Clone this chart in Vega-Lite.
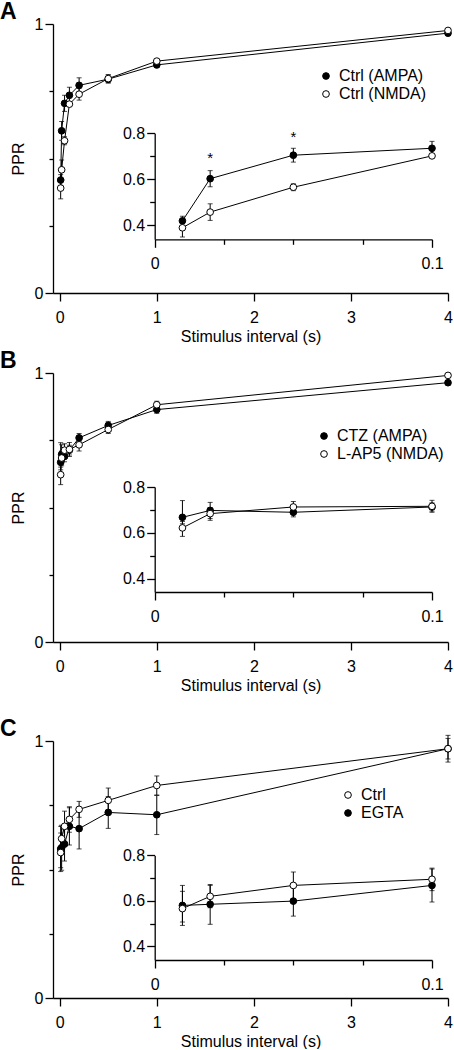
{
  "$schema": "https://vega.github.io/schema/vega-lite/v6.json",
  "padding": {"left": 0, "top": 1, "right": 4, "bottom": 0},
  "config": {
    "view": {"stroke": null},
    "font": "Liberation Sans",
    "axis": {"domainColor": "black", "domainWidth": 1.3, "tickColor": "black", "tickWidth": 1.3, "labelColor": "black", "labelFont": "Liberation Sans", "labelFontSize": 16, "titleFont": "Liberation Sans", "titleFontSize": 16, "titleFontWeight": "normal", "titleColor": "black", "grid": false, "labelFlush": false, "labelOverlap": false},
    "legend": {"labelFont": "Liberation Sans", "labelFontSize": 16, "labelColor": "black", "symbolStrokeColor": "black", "symbolStrokeWidth": 1, "symbolSize": 45, "symbolType": "circle", "rowPadding": 2, "labelOffset": 5, "padding": 0},
    "title": {"font": "Liberation Sans", "fontSize": 23, "fontWeight": "bold", "color": "black", "anchor": "start", "frame": "bounds"}
  },
  "datasets": {
    "pts": [
      {"panel": "A", "series": "Ctrl (AMPA)", "x": 0.01, "y": 0.42, "lo": 0.40, "hi": 0.44},
      {"panel": "A", "series": "Ctrl (AMPA)", "x": 0.02, "y": 0.603, "lo": 0.568, "hi": 0.638},
      {"panel": "A", "series": "Ctrl (AMPA)", "x": 0.05, "y": 0.705, "lo": 0.675, "hi": 0.735},
      {"panel": "A", "series": "Ctrl (AMPA)", "x": 0.1, "y": 0.735, "lo": 0.705, "hi": 0.765},
      {"panel": "A", "series": "Ctrl (AMPA)", "x": 0.2, "y": 0.772, "lo": 0.745, "hi": 0.8},
      {"panel": "A", "series": "Ctrl (AMPA)", "x": 0.5, "y": 0.795, "lo": 0.78, "hi": 0.81},
      {"panel": "A", "series": "Ctrl (AMPA)", "x": 1, "y": 0.848, "lo": 0.838, "hi": 0.858},
      {"panel": "A", "series": "Ctrl (AMPA)", "x": 4, "y": 0.966, "lo": 0.958, "hi": 0.974},
      {"panel": "A", "series": "Ctrl (NMDA)", "x": 0.01, "y": 0.39, "lo": 0.35, "hi": 0.42},
      {"panel": "A", "series": "Ctrl (NMDA)", "x": 0.02, "y": 0.458, "lo": 0.422, "hi": 0.494},
      {"panel": "A", "series": "Ctrl (NMDA)", "x": 0.05, "y": 0.566, "lo": 0.551, "hi": 0.581},
      {"panel": "A", "series": "Ctrl (NMDA)", "x": 0.1, "y": 0.702, "lo": 0.695, "hi": 0.709},
      {"panel": "A", "series": "Ctrl (NMDA)", "x": 0.2, "y": 0.739, "lo": 0.717, "hi": 0.761},
      {"panel": "A", "series": "Ctrl (NMDA)", "x": 0.5, "y": 0.797, "lo": 0.783, "hi": 0.812},
      {"panel": "A", "series": "Ctrl (NMDA)", "x": 1, "y": 0.862, "lo": 0.855, "hi": 0.869},
      {"panel": "A", "series": "Ctrl (NMDA)", "x": 4, "y": 0.976, "lo": 0.97, "hi": 0.982},
      {"panel": "B", "series": "CTZ (AMPA)", "x": 0.01, "y": 0.668, "lo": 0.64, "hi": 0.741},
      {"panel": "B", "series": "CTZ (AMPA)", "x": 0.02, "y": 0.698, "lo": 0.663, "hi": 0.733},
      {"panel": "B", "series": "CTZ (AMPA)", "x": 0.05, "y": 0.69, "lo": 0.67, "hi": 0.71},
      {"panel": "B", "series": "CTZ (AMPA)", "x": 0.1, "y": 0.713, "lo": 0.695, "hi": 0.731},
      {"panel": "B", "series": "CTZ (AMPA)", "x": 0.2, "y": 0.759, "lo": 0.745, "hi": 0.775},
      {"panel": "B", "series": "CTZ (AMPA)", "x": 0.5, "y": 0.805, "lo": 0.79, "hi": 0.82},
      {"panel": "B", "series": "CTZ (AMPA)", "x": 1, "y": 0.864, "lo": 0.85, "hi": 0.878},
      {"panel": "B", "series": "CTZ (AMPA)", "x": 4, "y": 0.964, "lo": 0.956, "hi": 0.972},
      {"panel": "B", "series": "L-AP5 (NMDA)", "x": 0.01, "y": 0.622, "lo": 0.585, "hi": 0.65},
      {"panel": "B", "series": "L-AP5 (NMDA)", "x": 0.02, "y": 0.684, "lo": 0.655, "hi": 0.71},
      {"panel": "B", "series": "L-AP5 (NMDA)", "x": 0.05, "y": 0.713, "lo": 0.69, "hi": 0.737},
      {"panel": "B", "series": "L-AP5 (NMDA)", "x": 0.1, "y": 0.716, "lo": 0.69, "hi": 0.742},
      {"panel": "B", "series": "L-AP5 (NMDA)", "x": 0.2, "y": 0.733, "lo": 0.71, "hi": 0.755},
      {"panel": "B", "series": "L-AP5 (NMDA)", "x": 0.5, "y": 0.79, "lo": 0.775, "hi": 0.805},
      {"panel": "B", "series": "L-AP5 (NMDA)", "x": 1, "y": 0.882, "lo": 0.868, "hi": 0.895},
      {"panel": "B", "series": "L-AP5 (NMDA)", "x": 4, "y": 0.991, "lo": 0.985, "hi": 0.997},
      {"panel": "C", "series": "EGTA", "x": 0.01, "y": 0.58, "lo": 0.507, "hi": 0.668},
      {"panel": "C", "series": "EGTA", "x": 0.02, "y": 0.585, "lo": 0.497, "hi": 0.668},
      {"panel": "C", "series": "EGTA", "x": 0.05, "y": 0.599, "lo": 0.533, "hi": 0.665},
      {"panel": "C", "series": "EGTA", "x": 0.1, "y": 0.668, "lo": 0.595, "hi": 0.74},
      {"panel": "C", "series": "EGTA", "x": 0.2, "y": 0.659, "lo": 0.58, "hi": 0.738},
      {"panel": "C", "series": "EGTA", "x": 0.5, "y": 0.722, "lo": 0.66, "hi": 0.784},
      {"panel": "C", "series": "EGTA", "x": 1, "y": 0.713, "lo": 0.636, "hi": 0.788},
      {"panel": "C", "series": "EGTA", "x": 4, "y": 0.97, "lo": 0.93, "hi": 1.01},
      {"panel": "C", "series": "Ctrl", "x": 0.01, "y": 0.566, "lo": 0.492, "hi": 0.642},
      {"panel": "C", "series": "Ctrl", "x": 0.02, "y": 0.62, "lo": 0.57, "hi": 0.672},
      {"panel": "C", "series": "Ctrl", "x": 0.05, "y": 0.668, "lo": 0.61, "hi": 0.727},
      {"panel": "C", "series": "Ctrl", "x": 0.1, "y": 0.695, "lo": 0.645, "hi": 0.744},
      {"panel": "C", "series": "Ctrl", "x": 0.2, "y": 0.734, "lo": 0.703, "hi": 0.765},
      {"panel": "C", "series": "Ctrl", "x": 0.5, "y": 0.769, "lo": 0.72, "hi": 0.817},
      {"panel": "C", "series": "Ctrl", "x": 1, "y": 0.827, "lo": 0.79, "hi": 0.864},
      {"panel": "C", "series": "Ctrl", "x": 4, "y": 0.97, "lo": 0.918, "hi": 1.022}
    ],
    "stars": [
      {"x": 0.02, "y": 0.693, "t": "*"},
      {"x": 0.05, "y": 0.783, "t": "*"}
    ]
  },
  "spacing": 6,
  "resolve": {"scale": {"x": "independent", "y": "independent", "fill": "independent"}, "legend": {"fill": "independent"}},
  "vconcat": [
    {
      "title": {"text": "A", "offset": -8, "dx": -10},
      "width": 395, "height": 269,
      "data": {"name": "pts"},
      "transform": [{"filter": "datum.panel == 'A'"}],
      "resolve": {"scale": {"x": "independent", "y": "independent"}},
      "layer": [
        {
          "encoding": {
            "x": {"field": "x", "type": "quantitative", "scale": {"domain": [-0.069, 4], "nice": false, "zero": false}, "axis": {"values": [0, 1, 2, 3, 4], "title": "Stimulus interval (s)", "tickSize": 8, "labelPadding": 8, "titlePadding": 3}},
            "y": {"field": "y", "type": "quantitative", "scale": {"domain": [0, 1], "nice": false}, "axis": {"values": [0, 0.25, 0.5, 0.75, 1], "title": "PPR", "labelExpr": "datum.value == 1 ? '1' : datum.value == 0 ? '0' : ''", "tickSize": {"condition": {"test": "datum.value == 0 || datum.value == 1", "value": 8}, "value": 4}, "labelPadding": 2, "titlePadding": 8}}
          },
          "layer": [
            {"mark": {"type": "line", "color": "black", "strokeWidth": 1}, "encoding": {"detail": {"field": "series"}}},
            {"mark": {"type": "errorbar", "color": "black", "ticks": {"size": 5, "color": "black"}}, "encoding": {"y": {"field": "lo", "type": "quantitative", "title": "PPR", "scale": {"domain": [0, 1], "nice": false}}, "y2": {"field": "hi"}}},
            {"mark": {"type": "point", "shape": "circle", "filled": true, "stroke": "black", "strokeWidth": 1, "size": 45, "opacity": 1}, "encoding": {"fill": {"field": "series", "type": "nominal", "scale": {"domain": ["Ctrl (AMPA)", "Ctrl (NMDA)"], "range": ["black", "white"]}, "legend": {"title": null, "orient": "none", "legendX": 265, "legendY": 44}}}}
          ]
        },
        {
          "transform": [{"filter": "datum.x <= 0.1"}],
          "encoding": {
            "x": {"field": "x", "type": "quantitative", "scale": {"domain": [0, 0.1], "range": [101.7, 379], "nice": false, "zero": false}, "axis": {"orient": "bottom", "offset": -53.7, "values": [0, 0.025, 0.05, 0.075, 0.1], "title": null, "labelExpr": "datum.value == 0 ? '0' : datum.value == 0.1 ? '0.1' : ''", "tickSize": {"condition": {"test": "datum.value == 0 || datum.value == 0.1", "value": 8}, "value": 5}, "labelPadding": 8}},
            "y": {"field": "y", "type": "quantitative", "scale": {"domain": [0.34, 0.8], "range": [215.3, 109.3], "nice": false, "zero": false}, "axis": {"orient": "left", "offset": -101.7, "values": [0.4, 0.5, 0.6, 0.7, 0.8], "title": null, "labelExpr": "datum.value == 0.4 ? '0.4' : datum.value == 0.6 ? '0.6' : datum.value == 0.8 ? '0.8' : ''", "tickSize": {"condition": {"test": "datum.value == 0.4 || datum.value == 0.6 || datum.value == 0.8", "value": 8}, "value": 5}, "labelPadding": 2}}
          },
          "layer": [
            {"mark": {"type": "line", "color": "black", "strokeWidth": 1}, "encoding": {"detail": {"field": "series"}}},
            {"mark": {"type": "errorbar", "color": "black", "ticks": {"size": 5, "color": "black"}}, "encoding": {"y": {"field": "lo", "type": "quantitative", "title": null, "scale": {"domain": [0.34, 0.8], "range": [215.3, 109.3], "nice": false, "zero": false}}, "y2": {"field": "hi"}}},
            {"mark": {"type": "point", "shape": "circle", "filled": true, "stroke": "black", "strokeWidth": 1, "size": 45, "opacity": 1}, "encoding": {"fill": {"field": "series", "type": "nominal", "scale": {"domain": ["Ctrl (AMPA)", "Ctrl (NMDA)"], "range": ["black", "white"]}, "legend": null}}},
            {"data": {"name": "stars"}, "transform": [], "mark": {"type": "text", "fontSize": 15, "baseline": "middle", "align": "center", "color": "black"}, "encoding": {"text": {"field": "t"}}}
          ]
        }
      ]
    },
    {
      "spacing": 25,
      "resolve": {"scale": {"x": "independent", "y": "independent", "fill": "independent"}, "legend": {"fill": "independent"}},
      "vconcat": [
        {
          "title": {"text": "B", "offset": -8, "dx": -10},
          "width": 395, "height": 269,
          "data": {"name": "pts"},
          "transform": [{"filter": "datum.panel == 'B'"}],
          "resolve": {"scale": {"x": "independent", "y": "independent"}},
          "layer": [
            {
              "encoding": {
                "x": {"field": "x", "type": "quantitative", "scale": {"domain": [-0.069, 4], "nice": false, "zero": false}, "axis": {"values": [0, 1, 2, 3, 4], "title": "Stimulus interval (s)", "tickSize": 8, "labelPadding": 8, "titlePadding": 3}},
                "y": {"field": "y", "type": "quantitative", "scale": {"domain": [0, 1], "nice": false}, "axis": {"values": [0, 0.25, 0.5, 0.75, 1], "title": "PPR", "labelExpr": "datum.value == 1 ? '1' : datum.value == 0 ? '0' : ''", "tickSize": {"condition": {"test": "datum.value == 0 || datum.value == 1", "value": 8}, "value": 4}, "labelPadding": 2, "titlePadding": 8}}
              },
              "layer": [
                {"mark": {"type": "line", "color": "black", "strokeWidth": 1}, "encoding": {"detail": {"field": "series"}}},
                {"mark": {"type": "errorbar", "color": "black", "ticks": {"size": 5, "color": "black"}}, "encoding": {"y": {"field": "lo", "type": "quantitative", "title": "PPR", "scale": {"domain": [0, 1], "nice": false}}, "y2": {"field": "hi"}}},
                {"mark": {"type": "point", "shape": "circle", "filled": true, "stroke": "black", "strokeWidth": 1, "size": 45, "opacity": 1}, "encoding": {"fill": {"field": "series", "type": "nominal", "scale": {"domain": ["CTZ (AMPA)", "L-AP5 (NMDA)"], "range": ["black", "white"]}, "legend": {"title": null, "orient": "none", "legendX": 263, "legendY": 55}}}}
              ]
            },
            {
              "transform": [{"filter": "datum.x <= 0.1"}],
              "encoding": {
                "x": {"field": "x", "type": "quantitative", "scale": {"domain": [0, 0.1], "range": [101.7, 379], "nice": false, "zero": false}, "axis": {"orient": "bottom", "offset": -50, "values": [0, 0.025, 0.05, 0.075, 0.1], "title": null, "labelExpr": "datum.value == 0 ? '0' : datum.value == 0.1 ? '0.1' : ''", "tickSize": {"condition": {"test": "datum.value == 0 || datum.value == 0.1", "value": 8}, "value": 5}, "labelPadding": 8}},
                "y": {"field": "y", "type": "quantitative", "scale": {"domain": [0.343, 0.8], "range": [219, 114], "nice": false, "zero": false}, "axis": {"orient": "left", "offset": -101.7, "values": [0.4, 0.5, 0.6, 0.7, 0.8], "title": null, "labelExpr": "datum.value == 0.4 ? '0.4' : datum.value == 0.6 ? '0.6' : datum.value == 0.8 ? '0.8' : ''", "tickSize": {"condition": {"test": "datum.value == 0.4 || datum.value == 0.6 || datum.value == 0.8", "value": 8}, "value": 5}, "labelPadding": 2}}
              },
              "layer": [
                {"mark": {"type": "line", "color": "black", "strokeWidth": 1}, "encoding": {"detail": {"field": "series"}}},
                {"mark": {"type": "errorbar", "color": "black", "ticks": {"size": 5, "color": "black"}}, "encoding": {"y": {"field": "lo", "type": "quantitative", "title": null, "scale": {"domain": [0.343, 0.8], "range": [219, 114], "nice": false, "zero": false}}, "y2": {"field": "hi"}}},
                {"mark": {"type": "point", "shape": "circle", "filled": true, "stroke": "black", "strokeWidth": 1, "size": 45, "opacity": 1}, "encoding": {"fill": {"field": "series", "type": "nominal", "scale": {"domain": ["CTZ (AMPA)", "L-AP5 (NMDA)"], "range": ["black", "white"]}, "legend": null}}}
              ]
            }
          ]
        },
        {
          "title": {"text": "C", "offset": -8, "dx": -10},
          "width": 395, "height": 257,
          "data": {"name": "pts"},
          "transform": [{"filter": "datum.panel == 'C'"}],
          "resolve": {"scale": {"x": "independent", "y": "independent"}},
          "layer": [
            {
              "encoding": {
                "x": {"field": "x", "type": "quantitative", "scale": {"domain": [-0.069, 4], "nice": false, "zero": false}, "axis": {"values": [0, 1, 2, 3, 4], "title": "Stimulus interval (s)", "tickSize": 8, "labelPadding": 8, "titlePadding": 3}},
                "y": {"field": "y", "type": "quantitative", "scale": {"domain": [0, 1], "nice": false}, "axis": {"values": [0, 0.25, 0.5, 0.75, 1], "title": "PPR", "labelExpr": "datum.value == 1 ? '1' : datum.value == 0 ? '0' : ''", "tickSize": {"condition": {"test": "datum.value == 0 || datum.value == 1", "value": 8}, "value": 4}, "labelPadding": 2, "titlePadding": 8}}
              },
              "layer": [
                {"mark": {"type": "line", "color": "black", "strokeWidth": 1}, "encoding": {"detail": {"field": "series"}}},
                {"mark": {"type": "errorbar", "color": "black", "ticks": {"size": 5, "color": "black"}}, "encoding": {"y": {"field": "lo", "type": "quantitative", "title": "PPR", "scale": {"domain": [0, 1], "nice": false}}, "y2": {"field": "hi"}}},
                {"mark": {"type": "point", "shape": "circle", "filled": true, "stroke": "black", "strokeWidth": 1, "size": 45, "opacity": 1}, "encoding": {"fill": {"field": "series", "type": "nominal", "scale": {"domain": ["Ctrl", "EGTA"], "range": ["white", "black"]}, "legend": {"title": null, "orient": "none", "legendX": 287, "legendY": 46}}}}
              ]
            },
            {
              "transform": [{"filter": "datum.x <= 0.1"}],
              "encoding": {
                "x": {"field": "x", "type": "quantitative", "scale": {"domain": [0, 0.1], "range": [101.7, 379], "nice": false, "zero": false}, "axis": {"orient": "bottom", "offset": -38, "values": [0, 0.025, 0.05, 0.075, 0.1], "title": null, "labelExpr": "datum.value == 0 ? '0' : datum.value == 0.1 ? '0.1' : ''", "tickSize": {"condition": {"test": "datum.value == 0 || datum.value == 0.1", "value": 8}, "value": 5}, "labelPadding": 8}},
                "y": {"field": "y", "type": "quantitative", "scale": {"domain": [0.34, 0.8], "range": [219, 114.4], "nice": false, "zero": false}, "axis": {"orient": "left", "offset": -101.7, "values": [0.4, 0.5, 0.6, 0.7, 0.8], "title": null, "labelExpr": "datum.value == 0.4 ? '0.4' : datum.value == 0.6 ? '0.6' : datum.value == 0.8 ? '0.8' : ''", "tickSize": {"condition": {"test": "datum.value == 0.4 || datum.value == 0.6 || datum.value == 0.8", "value": 8}, "value": 5}, "labelPadding": 2}}
              },
              "layer": [
                {"mark": {"type": "line", "color": "black", "strokeWidth": 1}, "encoding": {"detail": {"field": "series"}}},
                {"mark": {"type": "errorbar", "color": "black", "ticks": {"size": 5, "color": "black"}}, "encoding": {"y": {"field": "lo", "type": "quantitative", "title": null, "scale": {"domain": [0.34, 0.8], "range": [219, 114.4], "nice": false, "zero": false}}, "y2": {"field": "hi"}}},
                {"mark": {"type": "point", "shape": "circle", "filled": true, "stroke": "black", "strokeWidth": 1, "size": 45, "opacity": 1}, "encoding": {"fill": {"field": "series", "type": "nominal", "scale": {"domain": ["Ctrl", "EGTA"], "range": ["white", "black"]}, "legend": null}}}
              ]
            }
          ]
        }
      ]
    }
  ]
}
